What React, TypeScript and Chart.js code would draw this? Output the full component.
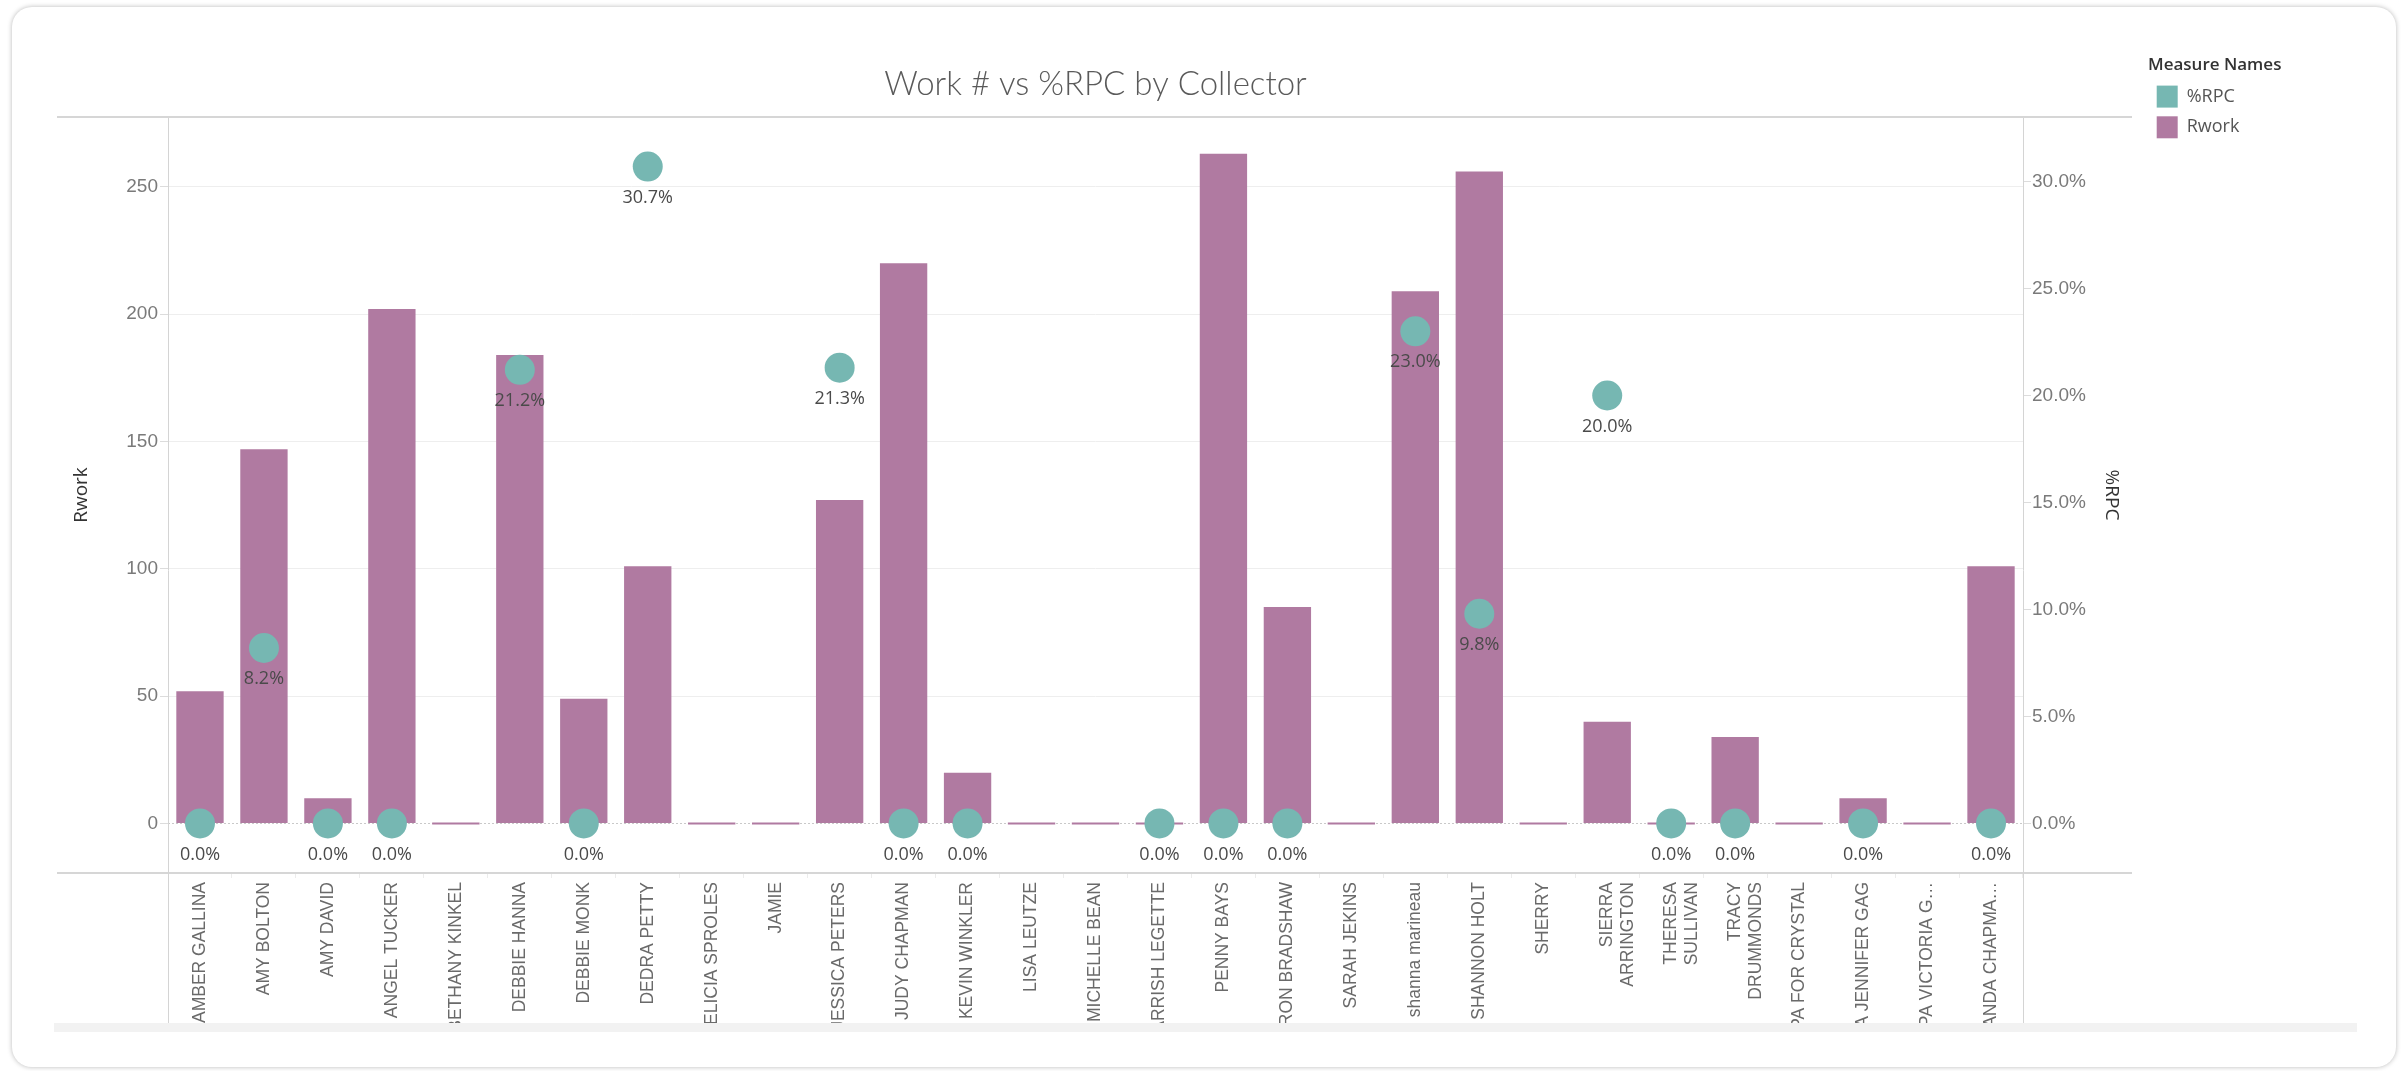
import React, { useEffect, useRef } from 'react';
import { Chart, registerables } from 'chart.js';

Chart.register(...registerables);

// ---------- data ----------
const categories: (string | string[])[] = [
  'AMBER GALLINA',
  'AMY BOLTON',
  'AMY DAVID',
  'ANGEL TUCKER',
  'BETHANY KINKEL',
  'DEBBIE HANNA',
  'DEBBIE MONK',
  'DEDRA PETTY',
  'FELICIA SPROLES',
  'JAMIE',
  'JESSICA PETERS',
  'JUDY CHAPMAN',
  'KEVIN WINKLER',
  'LISA LEUTZE',
  'MICHELLE BEAN',
  'ARRISH LEGETTE',
  'PENNY BAYS',
  'RON BRADSHAW',
  'SARAH JEKINS',
  'shanna marineau',
  'SHANNON HOLT',
  'SHERRY',
  ['SIERRA', 'ARRINGTON'],
  ['THERESA', 'SULLIVAN'],
  ['TRACY', 'DRUMMONDS'],
  'PA FOR CRYSTAL',
  'A JENNIFER GAG',
  'UPA VICTORIA G…',
  'ANDA CHAPMA…',
];

const rworkValues: number[] = [
  52, 147, 10, 202, 0, 184, 49, 101, 0, 0, 127, 220, 20, 0, 0, 0, 263, 85, 0, 209, 256, 0, 40, 0, 34, 0, 10, 0, 101,
];

const rpcValues: (number | null)[] = [
  0.0, 8.2, 0.0, 0.0, null, 21.2, 0.0, 30.7, null, null, 21.3, 0.0, 0.0, null, null, 0.0, 0.0, 0.0, null, 23.0, 9.8, null,
  20.0, 0.0, 0.0, null, 0.0, null, 0.0,
];

const leftTicks = [0, 50, 100, 150, 200, 250];
const rightTicks = [0, 5, 10, 15, 20, 25, 30];

const TEAL = '#76b7b2';
const MAUVE = '#b07aa1';
const SANS = "'Liberation Sans', Arial, sans-serif";
const OPEN = "'Open Sans', 'Noto Sans', sans-serif";
const LATO = "Lato, 'Open Sans', sans-serif";

const LEGEND_WIDTH = 150;

const legendWidthPlugin = {
  id: 'legendWidth',
  beforeLayout(chart: any) {
    const lg = chart.legend;
    if (lg && !lg.__patched) {
      const orig = lg.fit.bind(lg);
      lg.fit = function () {
        orig();
        this.width = LEGEND_WIDTH;
      };
      lg.__patched = true;
    }
  },
};

const decorPlugin = {
  id: 'decor',
  afterDraw(chart: any) {
    const { ctx, chartArea: a, height } = chart;
    ctx.save();
    ctx.strokeStyle = '#d6d6d6';
    ctx.lineWidth = 2;
    ctx.beginPath();
    ctx.moveTo(a.left - 111, a.top - 1);
    ctx.lineTo(a.right + 109, a.top - 1);
    ctx.moveTo(a.left - 111, a.bottom + 1);
    ctx.lineTo(a.right + 109, a.bottom + 1);
    ctx.stroke();
    ctx.lineWidth = 1;
    ctx.strokeStyle = '#d4d4d4';
    ctx.beginPath();
    ctx.moveTo(Math.round(a.left) + 0.5, a.top);
    ctx.lineTo(Math.round(a.left) + 0.5, height);
    ctx.moveTo(Math.round(a.right) + 0.5, a.top);
    ctx.lineTo(Math.round(a.right) + 0.5, height);
    ctx.stroke();
    ctx.restore();
  },
};

const labelPlugin = {
  id: 'rpcLabels',
  afterDatasetsDraw(chart: any) {
    const { ctx } = chart;
    const meta = chart.getDatasetMeta(0);
    ctx.save();
    ctx.font = `18px ${OPEN}`;
    ctx.fillStyle = '#4a4a4a';
    ctx.textAlign = 'center';
    ctx.textBaseline = 'middle';
    meta.data.forEach((pt: any, i: number) => {
      const v = rpcValues[i];
      if (v === null || v === undefined) return;
      ctx.fillText(`${v.toFixed(1)}%`, pt.x, pt.y + 31);
    });
    ctx.restore();
  },
};

export default function App() {
  const ref = useRef<HTMLCanvasElement | null>(null);

  useEffect(() => {
    if (!ref.current) return;
    const chart = new Chart(ref.current, {
      type: 'bar',
      data: {
        labels: categories as any,
        datasets: [
          {
            type: 'line',
            label: '%RPC',
            data: rpcValues as any,
            yAxisID: 'y2',
            showLine: false,
            pointRadius: 15,
            pointHoverRadius: 15,
            pointBackgroundColor: TEAL,
            pointBorderWidth: 0,
            backgroundColor: TEAL,
            borderColor: TEAL,
            borderWidth: 0,
            order: 0,
          } as any,
          {
            type: 'bar',
            label: 'Rwork',
            data: rworkValues,
            yAxisID: 'y',
            backgroundColor: MAUVE,
            borderWidth: 0,
            barPercentage: 0.74,
            categoryPercentage: 1.0,
            minBarLength: 2,
            order: 1,
          } as any,
        ],
      },
      options: {
        responsive: false,
        animation: false,
        devicePixelRatio: 1,
        layout: { padding: { left: 0, right: 2384 - 2136 - LEGEND_WIDTH, top: 0, bottom: 0 } },
        plugins: {
          tooltip: { enabled: false },
          title: {
            display: true,
            text: 'Work # vs %RPC by Collector',
            fullSize: false,
            color: '#5a5a5a',
            font: { family: LATO, size: 33, weight: '300' },
            padding: { top: 57.2, bottom: 14.2 },
          },
          legend: {
            display: true,
            position: 'right',
            align: 'start',
            fullSize: true,
            title: {
              display: true,
              text: 'Measure Names',
              color: '#333333',
              position: 'start',
              font: { family: OPEN, size: 17, weight: '600' },
              padding: { top: 49.5, bottom: 0 },
            },
            labels: {
              boxWidth: 21,
              boxHeight: 22,
              padding: 8.7,
              color: '#555555',
              font: { family: OPEN, size: 18 },
            },
          } as any,
        },
        scales: {
          x: {
            type: 'category',
            offset: true,
            grid: {
              offset: true,
              drawOnChartArea: false,
              drawTicks: true,
              tickLength: 6,
              tickColor: '#ececec',
            },
            border: { display: false },
            ticks: {
              autoSkip: false,
              minRotation: 90,
              maxRotation: 90,
              padding: 4,
              color: '#6a6a6a',
              font: { family: SANS, size: 17.5 },
            },
            afterFit: (scale: any) => {
              scale.height = 151;
            },
          },
          y: {
            type: 'linear',
            position: 'left',
            min: -19,
            max: 277,
            afterBuildTicks: (scale: any) => {
              scale.ticks = leftTicks.map((v) => ({ value: v }));
            },
            afterFit: (scale: any) => {
              scale.width = 156;
            },
            grid: {
              color: (c: any) => (c.tick && c.tick.value === 0 ? '#c9c9c9' : '#eeeeee'),
              tickColor: '#dcdcdc',
              tickLength: 8,
              lineWidth: 1,
            },
            border: {
              display: false,
              dash: (c: any) => (c.tick && c.tick.value === 0 ? [2, 2] : []),
            } as any,
            ticks: {
              padding: 2,
              color: '#7a7a7a',
              font: { family: SANS, size: 19 },
              callback: (v: any) => String(v),
            },
            title: {
              display: true,
              text: 'Rwork',
              color: '#333333',
              font: { family: OPEN, size: 19 },
              padding: { top: 58.3, bottom: 0 },
            },
          },
          y2: {
            type: 'linear',
            position: 'right',
            min: -2.27,
            max: 32.97,
            afterBuildTicks: (scale: any) => {
              scale.ticks = rightTicks.map((v) => ({ value: v }));
            },
            afterFit: (scale: any) => {
              scale.width = 125;
            },
            grid: {
              drawOnChartArea: false,
              tickColor: '#dcdcdc',
              tickLength: 8,
            },
            border: { display: false },
            ticks: {
              padding: 1,
              color: '#7a7a7a',
              font: { family: SANS, size: 19 },
              callback: (v: any) => `${Number(v).toFixed(1)}%`,
            },
            title: {
              display: true,
              text: '%RPC',
              color: '#333333',
              font: { family: OPEN, size: 19 },
              padding: { top: 25.6, bottom: 0 },
            },
          },
        },
      } as any,
      plugins: [legendWidthPlugin, decorPlugin, labelPlugin],
    });
    return () => chart.destroy();
  }, []);

  return (
    <div style={{ position: 'absolute', left: 0, top: 0, width: 2402, height: 1071, background: '#ffffff', overflow: 'hidden' }}>
      <div
        style={{
          position: 'absolute',
          left: 12,
          top: 7,
          width: 2384,
          height: 1060,
          borderRadius: 20,
          background: '#ffffff',
          boxShadow: '0 0 5px rgba(0,0,0,0.28)',
          overflow: 'hidden',
        }}
      >
        <canvas ref={ref} width={2384} height={1016} style={{ position: 'absolute', left: 0, top: 0, width: 2384, height: 1016 }} />
        <div style={{ position: 'absolute', left: 42, top: 1016, width: 2303, height: 9, background: '#f2f2f2' }} />
      </div>
    </div>
  );
}
